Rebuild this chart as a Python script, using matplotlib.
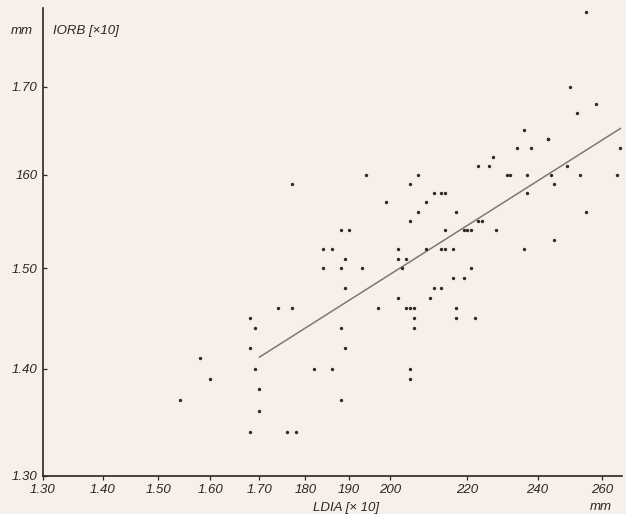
import matplotlib
matplotlib.use("Agg")
import matplotlib.pyplot as plt
from matplotlib.ticker import FixedLocator, FixedFormatter, NullLocator

# LDIA values (x) and IORB values (y), log-log plot
ldia = [1.54, 1.58, 1.60, 1.68, 1.69, 1.68, 1.69, 1.70, 1.70, 1.68,
        1.74, 1.77, 1.76, 1.78, 1.82, 1.77, 1.94, 2.07, 2.05, 2.11,
        2.13, 2.14, 1.99, 2.09, 2.07, 2.17, 2.05, 2.23, 2.23, 1.88,
        1.90, 2.14, 1.84, 1.86, 2.02, 2.09, 2.13, 2.14, 2.16, 2.19,
        2.20, 2.21, 1.89, 2.02, 2.04, 1.84, 1.88, 1.93, 2.03, 2.21,
        2.16, 2.19, 1.89, 2.11, 2.13, 2.02, 2.10, 1.97, 2.04, 2.05,
        2.06, 2.17, 2.06, 2.17, 2.22, 1.88, 2.06, 1.89, 1.86, 2.05,
        2.05, 1.88, 2.55, 2.50, 2.58, 2.52, 2.36, 2.43, 2.432, 2.34,
        2.38, 2.66, 2.27, 2.26, 2.49, 2.31, 2.32, 2.37, 2.44, 2.53,
        2.65, 2.45, 2.37, 2.24, 2.28, 2.55, 2.45, 2.36]
iorb = [1.37, 1.41, 1.39, 1.45, 1.44, 1.42, 1.40, 1.38, 1.36, 1.34,
        1.46, 1.46, 1.34, 1.34, 1.40, 1.59, 1.60, 1.60, 1.59, 1.58,
        1.58, 1.58, 1.57, 1.57, 1.56, 1.56, 1.55, 1.61, 1.55, 1.54,
        1.54, 1.54, 1.52, 1.52, 1.52, 1.52, 1.52, 1.52, 1.52, 1.54,
        1.54, 1.54, 1.51, 1.51, 1.51, 1.50, 1.50, 1.50, 1.50, 1.50,
        1.49, 1.49, 1.48, 1.48, 1.48, 1.47, 1.47, 1.46, 1.46, 1.46,
        1.46, 1.46, 1.45, 1.45, 1.45, 1.44, 1.44, 1.42, 1.40, 1.40,
        1.39, 1.37, 1.79, 1.70, 1.68, 1.67, 1.65, 1.64, 1.64, 1.63,
        1.63, 1.63, 1.62, 1.61, 1.61, 1.60, 1.60, 1.60, 1.60, 1.60,
        1.60, 1.59, 1.58, 1.55, 1.54, 1.56, 1.53, 1.52]

# regression line end points
line_x = [1.70, 2.66]
line_y = [1.411, 1.652]

x_ticks = [1.30, 1.40, 1.50, 1.60, 1.70, 1.80, 1.90, 2.00, 2.20, 2.40, 2.60]
x_tick_labels = ["1.30", "1.40", "1.50", "1.60", "1.70", "180", "190", "200", "220", "240", "260"]
y_ticks = [1.30, 1.40, 1.50, 1.60, 1.70]
y_tick_labels = ["1.30", "1.40", "1.50", "160", "1.70"]

bg = "#f7f0ea"
ink = "#2a2624"
fam = ["Liberation Sans", "DejaVu Sans"]

fig = plt.figure(figsize=(6.26, 5.14), dpi=100, facecolor=bg)
ax = fig.add_axes([43/626, 1-476/514, (622-43)/626, (476-8)/514], facecolor=bg)
ax.set_xscale("log")
ax.set_yscale("log")
ax.set_xlim(1.30, 2.665)
ax.set_ylim(1.30, 1.795)

ax.scatter(ldia, iorb, s=6, color="#2e2a28", linewidths=0, zorder=3)
ax.plot(line_x, line_y, color="#7d7876", lw=1.1, zorder=2)

for s in ["top", "right"]:
    ax.spines[s].set_visible(False)
for s in ["left", "bottom"]:
    ax.spines[s].set_color(ink)
    ax.spines[s].set_linewidth(1.2)

ax.xaxis.set_major_locator(FixedLocator(x_ticks))
ax.xaxis.set_major_formatter(FixedFormatter(x_tick_labels))
ax.xaxis.set_minor_locator(NullLocator())
ax.yaxis.set_major_locator(FixedLocator(y_ticks))
ax.yaxis.set_major_formatter(FixedFormatter(y_tick_labels))
ax.yaxis.set_minor_locator(NullLocator())

ax.tick_params(axis="x", direction="out", length=3, width=0.9, color=ink,
               pad=3, labelsize=9.5, labelcolor=ink)
ax.tick_params(axis="y", direction="in", length=3, width=0.9, color=ink,
               pad=4, labelsize=9.5, labelcolor=ink)
for lab in ax.get_xticklabels() + ax.get_yticklabels():
    lab.set_fontstyle("italic")
    lab.set_family(fam)

fig.text(22/626, 1-31/514, "mm", ha="center", va="center", fontsize=9.5,
         style="italic", family=fam, color=ink)
fig.text(53/626, 1-31/514, "IORB [×10]", ha="left", va="center", fontsize=9.5,
         style="italic", family=fam, color=ink)
fig.text(346/626, 1-507.5/514, "LDIA [× 10]", ha="center", va="center", fontsize=9.5,
         style="italic", family=fam, color=ink)
fig.text(601/626, 1-507.5/514, "mm", ha="center", va="center", fontsize=9.5,
         style="italic", family=fam, color=ink)

fig.savefig("out.png", dpi=100, facecolor=bg)
